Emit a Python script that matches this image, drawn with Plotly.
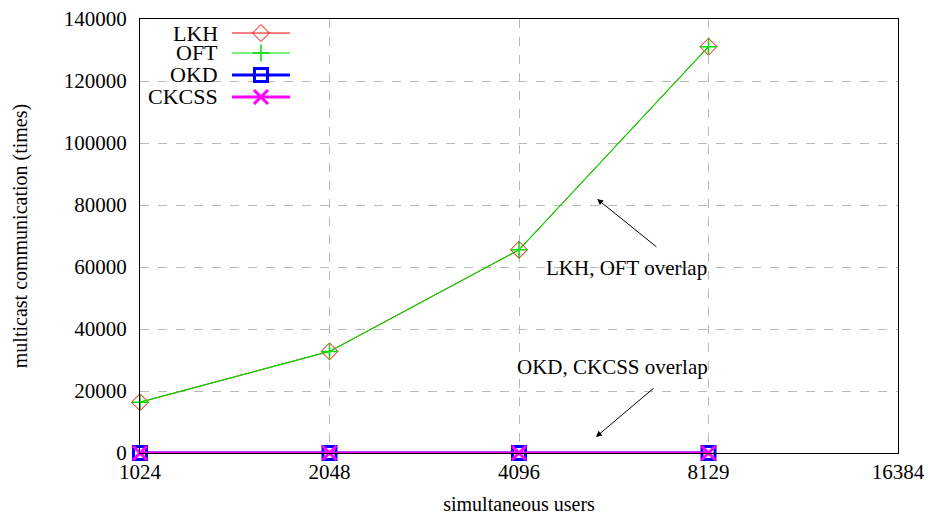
import plotly.graph_objects as go

users = ["1024", "2048", "4096", "8129", "16384"]
lkh = [16384, 32768, 65536, 131072]
oft = [16384, 32768, 65536, 131072]
okd = [10, 11, 12, 13]
ckcss = [10, 11, 12, 13]
y_ticks = [0, 20000, 40000, 60000, 80000, 100000, 120000, 140000]

FONT = "Liberation Serif"
xpos = list(range(len(users)))

series = [
    ("LKH", lkh, dict(color="red", width=1), dict(symbol="diamond-open", size=13, color="red", line=dict(width=1, color="red"))),
    ("OFT", oft, dict(color="#00dd00", width=1.2), dict(symbol="cross-thin-open", size=12, color="#00dd00", line=dict(width=1.5, color="#00dd00"))),
    ("OKD", okd, dict(color="blue", width=3), dict(symbol="square-open", size=13, color="blue", line=dict(width=3, color="blue"))),
    ("CKCSS", ckcss, dict(color="magenta", width=3), dict(symbol="x-thin-open", size=14, color="magenta", line=dict(width=3, color="magenta"))),
]

fig = go.Figure()
for name, vals, line, marker in series:
    fig.add_trace(go.Scatter(x=xpos[:len(vals)], y=vals, mode="lines+markers", name=name,
                             line=line, marker=marker, showlegend=False, cliponaxis=False))

# custom gnuplot-style legend (text, then sample) on an overlay paper-like axis
leg_y = [0.9677, 0.9217, 0.871, 0.8203]
annotations = []
for (name, vals, line, marker), yy in zip(series, leg_y):
    fig.add_trace(go.Scatter(x=[0.1214, 0.1979], y=[yy, yy], mode="lines", line=line,
                             xaxis="x2", yaxis="y2", showlegend=False, hoverinfo="skip"))
    fig.add_trace(go.Scatter(x=[0.1596], y=[yy], mode="markers", marker=marker,
                             xaxis="x2", yaxis="y2", showlegend=False, hoverinfo="skip"))
    annotations.append(dict(x=0.105, y=yy, xref="paper", yref="paper", text=name, showarrow=False,
                            xanchor="right", yanchor="middle", font=dict(family=FONT, size=22, color="black")))

annotations += [
    dict(x=2.565, y=59677, xref="x", yref="y", text="LKH, OFT overlap", showarrow=False,
         font=dict(family=FONT, size=21, color="black")),
    dict(x=2.491, y=27742, xref="x", yref="y", text="OKD, CKCSS overlap", showarrow=False,
         font=dict(family=FONT, size=21, color="black")),
    dict(x=2.412, y=81935, ax=2.733, ay=66129, xref="x", yref="y", axref="x", ayref="y",
         text="", showarrow=True, arrowhead=2, arrowsize=1.2, arrowwidth=1, arrowcolor="black"),
    dict(x=2.406, y=5161, ax=2.718, ay=21290, xref="x", yref="y", axref="x", ayref="y",
         text="", showarrow=True, arrowhead=2, arrowsize=1.2, arrowwidth=1, arrowcolor="black"),
]

fig.update_layout(
    width=930, height=518,
    margin=dict(l=140, r=32, t=19, b=65),
    paper_bgcolor="white", plot_bgcolor="white",
    font=dict(family=FONT, size=21, color="black"),
    annotations=annotations,
    xaxis=dict(range=[0, 4], tickvals=xpos, ticktext=users, showgrid=True,
               gridcolor="#b8b8b8", griddash="dash", gridwidth=1,
               showline=True, linecolor="black", linewidth=1, mirror=True,
               ticks="", zeroline=False, automargin=False,
               tickfont=dict(family=FONT, size=21, color="black"),
               title=dict(text="simultaneous users", font=dict(family=FONT, size=20, color="black"), standoff=13)),
    yaxis=dict(range=[0, 140000], tickvals=y_ticks, ticktext=[str(v) for v in y_ticks],
               showgrid=True, gridcolor="#b8b8b8", griddash="dash", gridwidth=1,
               showline=True, linecolor="black", linewidth=1, mirror=True,
               ticks="outside", ticklen=8, tickcolor="rgba(0,0,0,0)", zeroline=False, automargin=False,
               tickfont=dict(family=FONT, size=21, color="black"),
               title=dict(text="multicast communication (times)", font=dict(family=FONT, size=20, color="black"), standoff=30)),
    xaxis2=dict(overlaying="x", range=[0, 1], visible=False, fixedrange=True),
    yaxis2=dict(overlaying="y", range=[0, 1], visible=False, fixedrange=True),
)

fig.write_html("out.html", config={"displayModeBar": False},
               post_script="document.body.style.margin='0';")
